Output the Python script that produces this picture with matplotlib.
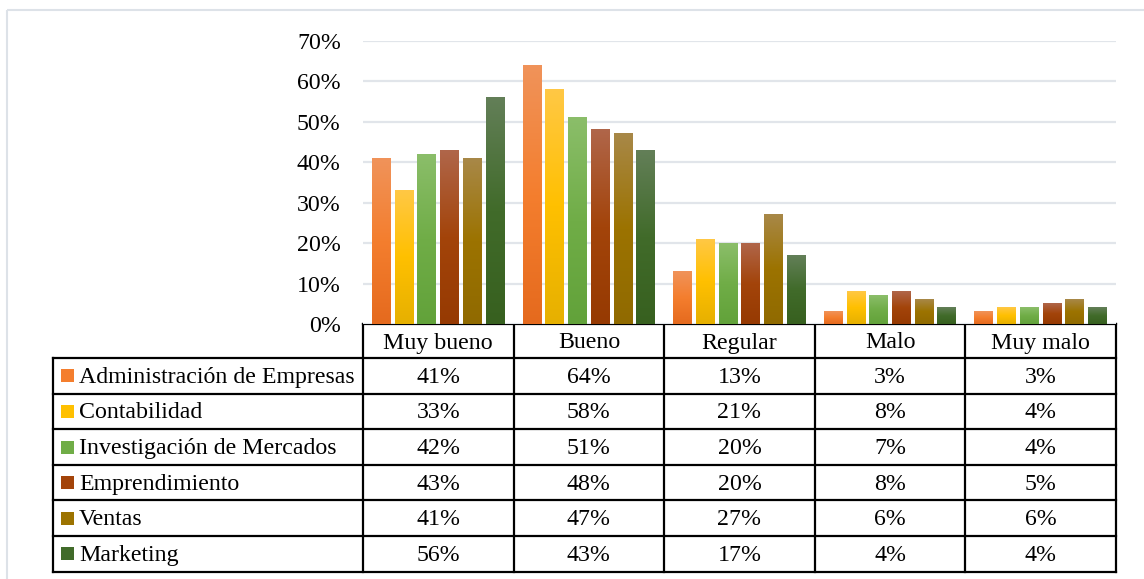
import numpy as np
import matplotlib
matplotlib.use("Agg")
import matplotlib.pyplot as plt
from matplotlib.colors import LinearSegmentedColormap, to_rgb
from matplotlib.patches import Rectangle
from matplotlib.lines import Line2D

# Data
categories = ["Muy bueno", "Bueno", "Regular", "Malo", "Muy malo"]
series = ["Administración de Empresas", "Contabilidad", "Investigación de Mercados",
          "Emprendimiento", "Ventas", "Marketing"]
admin = [41, 64, 13, 3, 3]
contab = [33, 58, 21, 8, 4]
invest = [42, 51, 20, 7, 4]
empren = [43, 48, 20, 8, 5]
ventas = [41, 47, 27, 6, 6]
marketing = [56, 43, 17, 4, 4]
values = [admin, contab, invest, empren, ventas, marketing]
yticks = [0, 10, 20, 30, 40, 50, 60, 70]

# gradient stops per series: bottom, middle, top
grads = [
    ("#E56A1E", "#F47E2E", "#F0935A"),
    ("#E6B000", "#FFC000", "#FFC845"),
    ("#62A23A", "#70AD47", "#8BBE6A"),
    ("#963A02", "#A3440A", "#B0664A"),
    ("#906A00", "#9C7300", "#A88848"),
    ("#37601F", "#416B2A", "#637F58"),
]
mid_colors = [g[1] for g in grads]

plt.rcParams['font.family'] = ['Liberation Serif', 'DejaVu Serif']
FS = 17.2

W, H = 1144, 579
fig = plt.figure(figsize=(W / 100, H / 100), dpi=100)

# overlay in pixel coords for frame and table
ov = fig.add_axes([0, 0, 1, 1])
ov.set_xlim(0, W)
ov.set_ylim(H, 0)
ov.axis("off")
ov.add_patch(Rectangle((7, 10), W + 10, H, fill=False, ec="#DDE2E8", lw=1.5))

x0px, x1px = 363, 1116
y0px, y1px = 324, 41
ax = fig.add_axes([x0px / W, (H - y0px) / H, (x1px - x0px) / W, (y0px - y1px) / H])
ax.set_xlim(-0.5, len(categories) - 0.5)
ax.set_ylim(0, 70)
for s in ax.spines.values():
    s.set_visible(False)
ax.set_xticks([])
ax.set_yticks(yticks)
ax.set_yticklabels([f"{v}%" for v in yticks], fontsize=FS)
ax.tick_params(axis="y", length=0, pad=16)
ax.grid(axis="y", color="#E1E5EA", lw=1.6, zorder=0)
ax.set_axisbelow(True)

step, bw = 0.151, 0.126
grad_img = np.linspace(0, 1, 256).reshape(-1, 1)
for j, vals in enumerate(values):
    cmap = LinearSegmentedColormap.from_list(f"g{j}", [to_rgb(c) for c in grads[j]])
    for i, v in enumerate(vals):
        xc = i + (j - 2.5) * step
        ax.imshow(grad_img, extent=[xc - bw / 2, xc + bw / 2, 0, v], origin="lower",
                  aspect="auto", cmap=cmap, zorder=2, interpolation="bilinear")
ax.set_xlim(-0.5, len(categories) - 0.5)
ax.set_ylim(0, 70)

# table
lw = 1.6
colw = (x1px - x0px) / len(categories)
left = 53
top_hdr, hdr_h = 324, 34
row_h = 35.6
rows_top = top_hdr + hdr_h
bottom = rows_top + row_h * len(series)

def hline(xa, xb, y):
    ov.add_line(Line2D([xa, xb], [y, y], color="black", lw=lw))

def vline(x, ya, yb):
    ov.add_line(Line2D([x, x], [ya, yb], color="black", lw=lw))

hline(x0px, x1px, top_hdr)
for k in range(len(series) + 1):
    hline(left, x1px, rows_top + k * row_h)
vline(left, rows_top, bottom)
for c in range(len(categories) + 1):
    vline(x0px + c * colw, top_hdr, bottom)

for c, cat in enumerate(categories):
    ov.text(x0px + (c + 0.5) * colw, top_hdr + hdr_h / 2 + 2, cat, fontsize=FS,
            ha="center", va="center")

for r, name in enumerate(series):
    yc = rows_top + (r + 0.5) * row_h
    ov.add_patch(Rectangle((61, yc - 6.5), 13, 13, color=mid_colors[r], lw=0))
    ov.text(79, yc + 1.5, name, fontsize=FS, ha="left", va="center")
    for c in range(len(categories)):
        ov.text(x0px + (c + 0.5) * colw, yc + 1.5, f"{values[r][c]}%", fontsize=FS,
                ha="center", va="center")

fig.savefig("out.png", dpi=100)
